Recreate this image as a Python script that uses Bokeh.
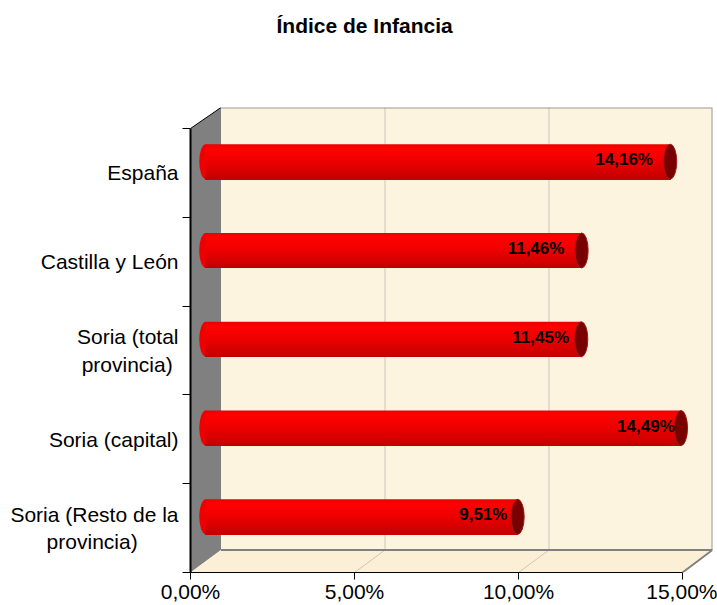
from bokeh.plotting import figure
from bokeh.embed import file_html
from bokeh.resources import INLINE
from bokeh.models import FixedTicker, Title
from bokeh.core.properties import value

TITLE = "Índice de Infancia"
NB = "\u00a0"
categories = ["Soria (Resto de la\nprovincia)" + NB * 7, "Soria (capital)", "Soria (total\nprovincia)" + NB, "Castilla y León", "España"]
values = [9.51, 14.49, 11.45, 11.46, 14.16]
value_labels = ["9,51%", "14,49%", "11,45%", "11,46%", "14,16%"]
x_ticks = [0, 5, 10, 15]
x_tick_labels = ["0,00%", "5,00%", "10,00%", "15,00%"]
grid_values = [5, 10]
label_nudge = [5, 9, 3, -2, -2]

FONT = "Liberation Sans"
PX_X = 492 / 15
PX_Y = 444 / 5
DX = 30.5 / PX_X
DY = 22.5 / PX_Y
XMAX = 522 / PX_X
YMAX = 465 / PX_Y
WALL = "#fdf4df"
FLOOR = "#fbefd6"
GREY = "#808080"
RAMP = [(0.0, (235, 0, 0)), (0.12, (255, 0, 0)), (0.45, (240, 0, 0)), (0.9, (205, 0, 0)), (1.0, (190, 0, 0))]


def ramp(t):
    for (t0, c0), (t1, c1) in zip(RAMP, RAMP[1:]):
        if t <= t1:
            f = (t - t0) / (t1 - t0)
            return "#%02x%02x%02x" % tuple(round(a + (b - a) * f) for a, b in zip(c0, c1))
    return "#be0000"


p = figure(width=717, height=605, x_range=(0, XMAX), y_range=(0, YMAX),
           output_backend="svg", toolbar_location=None,
           min_border_left=190, min_border_right=5, min_border_top=107, min_border_bottom=33)
p.grid.visible = False
p.outline_line_color = None
p.background_fill_color = "white"
p.title = None
p.add_layout(Title(text=NB, text_font_size="1px", standoff=58), "above")
p.add_layout(Title(text=TITLE, align="left", offset=86, standoff=19,
                   text_font=FONT, text_font_size="21px", text_font_style="bold", text_color="black"), "above")

# walls
p.quad(left=DX, right=XMAX, bottom=DY, top=YMAX, fill_color=WALL, line_color=None)
p.patch([0, DX, DX, 0], [0, DY, YMAX, 5], fill_color=GREY, line_color=None)
p.patch([0, DX, XMAX, 15], [0, DY, DY, 0], fill_color=FLOOR, line_color=None)
for g in grid_values:
    p.line([g, g + DX, g + DX], [0, DY, YMAX], line_color="#c8c6be", line_width=1)
p.line([DX, XMAX, XMAX], [YMAX, YMAX, DY], line_color="#9a9a9a", line_width=2)
p.line([DX, XMAX, 15], [DY, DY, 0], line_color=GREY, line_width=2)
p.line([0, DX], [5, YMAX], line_color="black", line_width=1)

# cylinders
H = 35 / PX_Y
CAP = 13
N = 35
for i, v in enumerate(values):
    yc = i + 0.5 + DY / 2
    xs = DX / 2
    p.ellipse(x=[xs], y=[yc], width=[CAP], height=[H], width_units="screen",
              fill_color="#ee0000", line_color=None)
    lefts, rights, tops, bottoms, cols = [], [], [], [], []
    for k in range(N):
        lefts.append(xs)
        rights.append(v + xs)
        tops.append(yc + H / 2 - k * H / N)
        bottoms.append(yc - H / 2)
        cols.append(ramp(k / (N - 1)))
    p.quad(left=lefts, right=rights, top=tops, bottom=bottoms, fill_color=cols, line_color=None)
    p.ellipse(x=[v + xs], y=[yc], width=[CAP], height=[H], width_units="screen",
              fill_color="#780000", line_color="#a01818", line_width=1)
    p.text(x=[v], y=[yc], text=[value_labels[i]], text_align="right", text_baseline="middle",
           x_offset=label_nudge[i], y_offset=-2, text_font=value(FONT), text_font_size="17px",
           text_font_style="bold", text_color="black")

# axes
ax = p.xaxis[0]
ax.ticker = FixedTicker(ticks=x_ticks)
ax.major_label_overrides = dict(zip(x_ticks, x_tick_labels))
ax.bounds = (0, 15)
ax.minor_tick_line_color = None
ax.major_tick_in = 0
ax.major_tick_out = 7
ax.major_label_standoff = 0
ax.major_label_text_font = FONT
ax.major_label_text_font_size = "21px"
ax.major_label_text_color = "black"
ax.axis_line_color = "black"

ay = p.yaxis[0]
ay.ticker = FixedTicker(ticks=[i + 0.5 for i in range(5)], minor_ticks=list(range(6)))
ay.major_label_overrides = {i + 0.5: c for i, c in enumerate(categories)}
ay.bounds = (0, 5)
ay.major_tick_in = 0
ay.major_tick_out = 0
ay.minor_tick_in = 0
ay.minor_tick_out = 8
ay.major_label_standoff = 4
ay.major_label_text_font = FONT
ay.major_label_text_font_size = "21px"
ay.major_label_text_color = "black"
ay.axis_line_color = "black"
ay.axis_line_width = 2
ay.minor_tick_line_color = "black"

open("out.html", "w").write(file_html(p, INLINE))
